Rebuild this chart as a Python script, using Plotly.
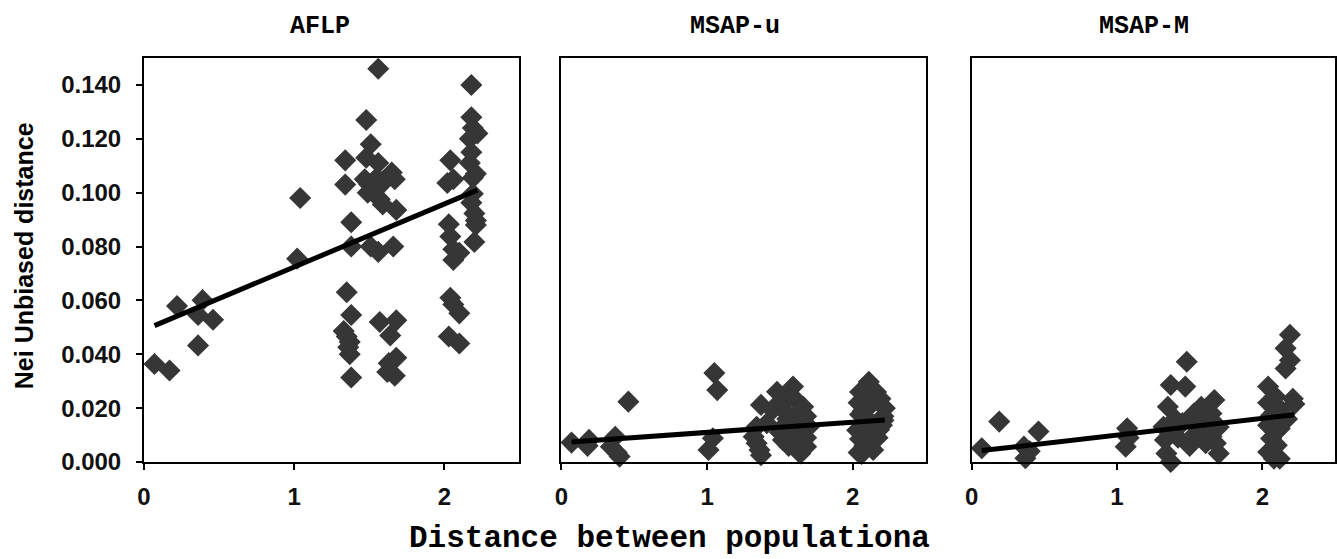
import plotly.graph_objects as go

# ---------------- data ----------------
panel_titles = ["AFLP", "MSAP-u", "MSAP-M"]

aflp_x = [0.07, 0.17, 0.22, 0.36, 0.36, 0.39, 0.46, 1.04, 1.02,
          1.34, 1.34, 1.38, 1.38, 1.35, 1.38, 1.33, 1.35, 1.37, 1.36, 1.37, 1.38,
          1.56, 1.48, 1.51, 1.48, 1.47, 1.50, 1.49, 1.56, 1.55, 1.58, 1.57, 1.59,
          1.51, 1.56, 1.57, 1.64, 1.63, 1.62,
          1.65, 1.67, 1.68, 1.66, 1.68, 1.68, 1.67,
          2.04, 2.02, 2.06, 2.03, 2.04, 2.06, 2.06, 2.10, 2.04, 2.06, 2.10, 2.03, 2.10,
          2.18, 2.18, 2.19, 2.22, 2.17, 2.18, 2.17, 2.19, 2.21, 2.19, 2.18, 2.20, 2.21, 2.20, 2.21]
aflp_y = [0.0364, 0.034, 0.0579, 0.0433, 0.0546, 0.0601, 0.0528, 0.098, 0.0755,
          0.112, 0.103, 0.089, 0.080, 0.063, 0.0546, 0.0486, 0.0466, 0.0446, 0.0426, 0.040, 0.0314,
          0.146, 0.127, 0.118, 0.113, 0.105, 0.103, 0.100, 0.111, 0.1055, 0.103, 0.0976, 0.0956,
          0.080, 0.078, 0.052, 0.047, 0.0367, 0.0334,
          0.1075, 0.105, 0.0936, 0.080, 0.0526, 0.0387, 0.032,
          0.112, 0.1036, 0.105, 0.0883, 0.0837, 0.079, 0.075, 0.0777, 0.061, 0.0585, 0.0552, 0.0466, 0.044,
          0.140, 0.128, 0.124, 0.122, 0.120, 0.115, 0.111, 0.1055, 0.107, 0.0996, 0.0963, 0.0923, 0.0897, 0.0817, 0.088]

msapu_x = [0.07, 0.19, 0.18, 0.37, 0.34, 0.40, 0.38, 0.46, 1.05, 1.07, 1.04, 1.01,
           1.37, 1.34, 1.32, 1.34, 1.36, 1.37, 1.41, 1.45, 1.48, 1.50,
           1.59, 1.61, 1.66, 1.68, 1.56, 1.52, 1.56, 1.59, 1.64, 1.68, 1.68, 1.70, 1.52, 1.50,
           1.55, 1.60, 1.63, 1.57, 1.62, 1.54,
           2.11, 2.05, 2.16, 2.04, 2.19, 2.12, 2.05, 2.21, 2.09, 2.03, 2.20, 2.12,
           2.05, 2.17, 2.08, 2.14, 2.04, 2.21, 2.14, 2.22, 2.07, 2.10, 2.18, 2.06]
msapu_y = [0.0072, 0.0082, 0.006, 0.0094, 0.0057, 0.002, 0.0035, 0.0224, 0.033, 0.0267, 0.0088, 0.0045,
           0.0212, 0.0131, 0.0094, 0.007, 0.0045, 0.0025, 0.0144, 0.0193, 0.0261, 0.0224,
           0.028, 0.023, 0.0205, 0.017, 0.0236, 0.0082, 0.006, 0.007, 0.0032, 0.0057, 0.009, 0.0131, 0.013, 0.011,
           0.016, 0.015, 0.012, 0.0105, 0.018, 0.0185,
           0.0298, 0.026, 0.026, 0.022, 0.0235, 0.021, 0.0176, 0.017, 0.0143, 0.0118, 0.0136, 0.011,
           0.0085, 0.009, 0.006, 0.0045, 0.0035, 0.0155, 0.0247, 0.020, 0.019, 0.016, 0.012, 0.003]

msapm_x = [0.07, 0.19, 0.21, 0.36, 0.37, 0.46, 0.40, 1.07, 1.06, 1.02, 1.08,
           1.48, 1.37, 1.47, 1.35, 1.32, 1.37, 1.33, 1.34, 1.37, 1.42, 1.40,
           1.53, 1.58, 1.67, 1.58, 1.65, 1.70, 1.54, 1.61, 1.70, 1.68, 1.50, 1.65,
           1.45, 1.56, 1.62,
           2.19, 2.16, 2.19, 2.16, 2.04, 2.09, 2.04, 2.21, 2.22, 2.12, 2.06, 2.04,
           2.12, 2.06, 2.10, 2.04, 2.08, 2.04, 2.12, 2.17]
msapm_y = [0.0051, 0.015, -0.001, 0.0057, 0.0014, 0.0113, 0.004, 0.0125, 0.0057, -0.001, 0.009,
           0.0372, 0.0286, 0.028, 0.0205, 0.0131, 0.012, 0.0082, 0.0032, 0.000, 0.009, 0.016,
           0.018, 0.0205, 0.023, 0.0155, 0.018, 0.013, 0.0106, 0.007, 0.0032, 0.007, 0.006, 0.0095,
           0.0145, 0.0125, 0.0115,
           0.0472, 0.0422, 0.0378, 0.0347, 0.028, 0.0243, 0.022, 0.0235, 0.0215, 0.0198, 0.0173, 0.0136,
           0.0124, 0.0087, 0.0062, 0.0037, 0.0012, -0.001, 0.0012, 0.016]

# linear trend coefficients (intercept, slope)
trend_intercept = [0.0490, 0.0072, 0.0038]
trend_slope = [0.0234, 0.0038, 0.0062]

y_tick_vals = [0.000, 0.020, 0.040, 0.060, 0.080, 0.100, 0.120, 0.140]
y_tick_text = ["0.000", "0.020", "0.040", "0.060", "0.080", "0.100", "0.120", "0.140"]
x_tick_vals = [0, 1, 2]
x_tick_text = ["0", "1", "2"]

# ---------------- figure ----------------
series = [(aflp_x, aflp_y), (msapu_x, msapu_y), (msapm_x, msapm_y)]
domains = [[0.0, 0.3152], [0.3504, 0.6563], [0.6949, 1.0]]
title_x = [320, 736, 1146]   # pixel centres of panel titles

W, H = 1339, 559
ML, MR, MT, MB = 144, 2, 58, 97

fig = go.Figure()
for i, (xs, ys) in enumerate(series):
    xa = "x" if i == 0 else f"x{i+1}"
    ya = "y" if i == 0 else f"y{i+1}"
    fig.add_trace(go.Scatter(
        x=xs, y=ys, mode="markers", xaxis=xa, yaxis=ya,
        marker=dict(symbol="diamond", size=17, color="#363636", line=dict(width=0)),
        cliponaxis=False, showlegend=False, hoverinfo="skip"))
    x0, x1 = min(xs), max(xs)
    fig.add_trace(go.Scatter(
        x=[x0, x1],
        y=[trend_intercept[i] + trend_slope[i] * x0, trend_intercept[i] + trend_slope[i] * x1],
        mode="lines", xaxis=xa, yaxis=ya,
        line=dict(color="black", width=5), showlegend=False, hoverinfo="skip"))

tick_font = dict(family="Liberation Sans, Arial, sans-serif", size=24, color="#111111", weight="bold")
layout = dict(
    width=W, height=H,
    margin=dict(l=ML, r=MR, t=MT, b=MB),
    paper_bgcolor="white", plot_bgcolor="white",
    showlegend=False,
)
for i in range(3):
    xk = "xaxis" if i == 0 else f"xaxis{i+1}"
    yk = "yaxis" if i == 0 else f"yaxis{i+1}"
    anchor_y = "y" if i == 0 else f"y{i+1}"
    anchor_x = "x" if i == 0 else f"x{i+1}"
    layout[xk] = dict(
        domain=domains[i], anchor=anchor_y, range=[0, 2.5],
        tickvals=x_tick_vals, ticktext=x_tick_text,
        ticks="outside", ticklen=6, tickwidth=2, tickcolor="black",
        showline=True, linecolor="black", linewidth=2, mirror=True,
        showgrid=False, zeroline=False, tickfont=tick_font,
        ticklabelstandoff=6,
    )
    layout[yk] = dict(
        domain=[0, 1], anchor=anchor_x, range=[0, 0.15],
        tickvals=y_tick_vals, ticktext=y_tick_text,
        showline=True, linecolor="black", linewidth=2, mirror=True,
        showgrid=False, zeroline=False, tickfont=tick_font,
        ticks="outside" if i == 0 else "", ticklen=6, tickwidth=2, tickcolor="black",
        showticklabels=(i == 0), ticklabelstandoff=10,
    )
fig.update_layout(**layout)

pw = W - ML - MR
anns = []
for i, t in enumerate(panel_titles):
    anns.append(dict(
        text=f"<b>{t}</b>", xref="paper", yref="paper",
        x=(title_x[i] - ML) / pw, y=1 + (MT - 27) / (H - MT - MB),
        xanchor="center", yanchor="middle", showarrow=False,
        font=dict(family="Liberation Mono, monospace", size=25, color="black")))
anns.append(dict(
    text="<b>Distance between populationa</b>", xref="paper", yref="paper",
    x=(670 - ML) / pw, y=-(538 - (H - MB)) / (H - MT - MB),
    xanchor="center", yanchor="middle", showarrow=False,
    font=dict(family="Liberation Mono, monospace", size=31, color="black")))
anns.append(dict(
    text="<b>Nei Unbiased distance</b>", xref="paper", yref="paper",
    x=-(ML - 24) / pw, y=(462 - 256) / (H - MT - MB),
    xanchor="center", yanchor="middle", textangle=-90, showarrow=False,
    font=dict(family="Liberation Sans, Arial, sans-serif", size=25, color="black")))
fig.update_layout(annotations=anns)

fig.write_html("out.html")
